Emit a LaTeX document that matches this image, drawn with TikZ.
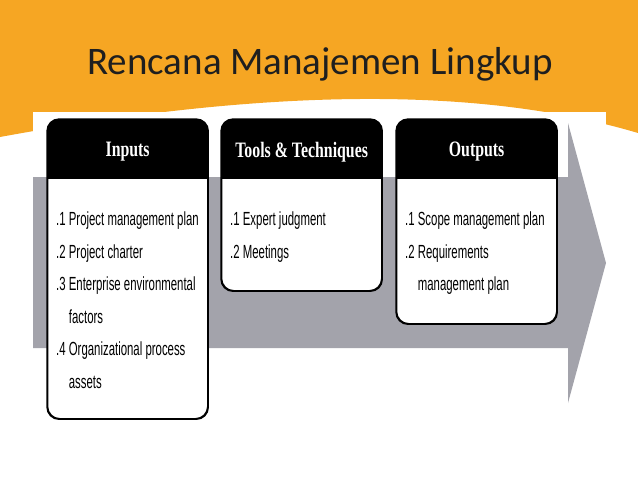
\documentclass[tikz,border=0pt]{standalone}
\usepackage{fontspec}
\setmainfont{Liberation Sans}
\newfontfamily\titlefont{Carlito}
\newfontfamily\itemfont[FakeStretch=0.6]{Liberation Sans}
\newfontfamily\headfont[FakeStretch=0.72]{Liberation Serif}
\usetikzlibrary{positioning}
\definecolor{bannerorange}{HTML}{F6A623}
\definecolor{arrowgray}{HTML}{A3A3AB}
\tikzset{
  stage/.style={draw, line width=1.3pt, rounded corners=12pt, minimum width=160pt, inner sep=0pt},
  stagehead/.style={text=white, font=\headfont\bfseries\fontsize{22}{24}\selectfont},
  stageitems/.style={anchor=north west, inner sep=0pt, align=left, font=\itemfont\fontsize{19}{32.5}\selectfont}
}

\begin{document}
\begin{tikzpicture}[x=1pt, y=-1pt]
  \useasboundingbox (0,0) rectangle (638,479);
  % banner
  \fill[bannerorange] (0,0) -- (638,0) -- (638,133) .. controls (500,92) and (300,82) .. (0,137) -- cycle;
  \fill[white] (33,112) rectangle (606,479);
  \node[font=\titlefont\fontsize{39}{44}\selectfont, text=black!88] (title) at (320,64) {Rencana Manajemen Lingkup};

  % big arrow
  \fill[arrowgray] (33,177) -- (568,177) -- (568,123) -- (606,263) -- (568,403) -- (568,348) -- (33,348) -- cycle;

  % stages
  \node[stage, fill=white, minimum height=299pt, anchor=north west] (inputs) at (47,119) {};
  \node[stage, fill=white, minimum height=171pt, anchor=north west] (tools) at (221,119) {};
  \node[stage, fill=white, minimum height=204pt, anchor=north west] (outputs) at (396,119) {};

  \foreach \s in {inputs, tools, outputs} {
    \begin{scope}
      \clip[rounded corners=12pt] (\s.south west) rectangle (\s.north east);
      \fill[black] (\s.north west) rectangle ([yshift=-60pt]\s.north east);
    \end{scope}
    \draw[line width=1.3pt, rounded corners=12pt] (\s.south west) rectangle (\s.north east);
  }

  \node[stagehead] (inputshead) at ([yshift=-33pt]inputs.north) {Inputs};
  \node[stagehead] (toolshead) at ([yshift=-33pt]tools.north) {Tools \& Techniques};
  \node[stagehead] (outputshead) at ([yshift=-33pt]outputs.north) {Outputs};

  \node[stageitems] (inputsitems) at (56,212) {.1 Project management plan\\ .2 Project charter\\ .3 Enterprise environmental\\ \phantom{.3 }factors\\ .4 Organizational process\\ \phantom{.4 }assets};
  \node[stageitems] (toolsitems) at (230,212) {.1 Expert judgment\\ .2 Meetings};
  \node[stageitems] (outputsitems) at (405,212) {.1 Scope management plan\\ .2 Requirements\\ \phantom{.2 }management plan};
\end{tikzpicture}
\end{document}
